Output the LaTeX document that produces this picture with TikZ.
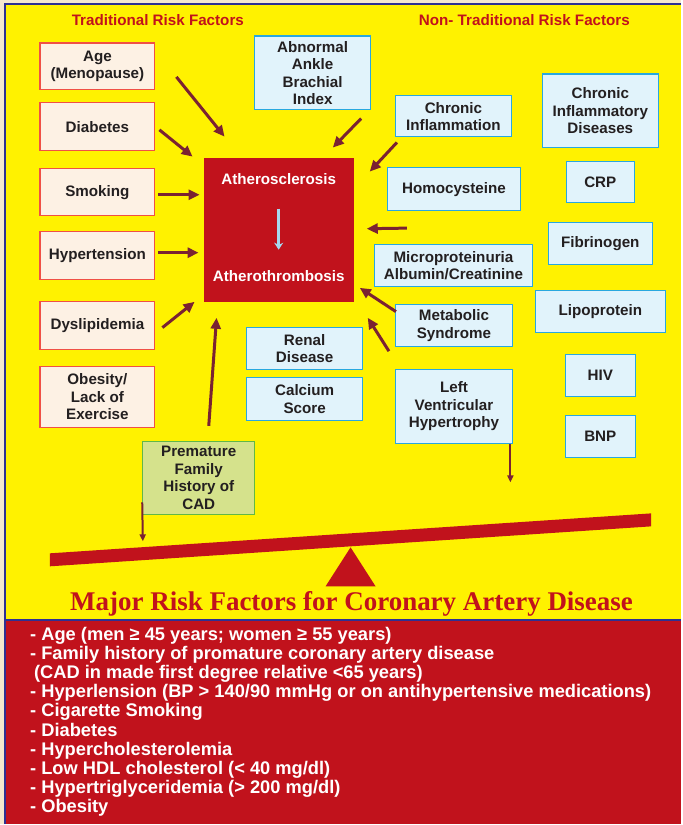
\documentclass[tikz,border=0pt]{standalone}
\usepackage{fontspec}
\setmainfont{Liberation Sans}
\newfontfamily\titlefont{Liberation Serif}
\usetikzlibrary{arrows.meta}
\definecolor{bgyellow}{RGB}{255,242,0}
\definecolor{cadred}{RGB}{193,18,28}
\definecolor{arrowred}{RGB}{122,34,50}
\definecolor{frameblue}{RGB}{46,49,146}
\definecolor{peach}{RGB}{253,241,228}
\definecolor{peachline}{RGB}{240,80,70}
\definecolor{paleblue}{RGB}{225,243,251}
\definecolor{paleline}{RGB}{41,168,223}
\definecolor{palegreen}{RGB}{213,226,140}
\definecolor{greenline}{RGB}{97,184,70}
\definecolor{boxtext}{RGB}{35,31,32}
\definecolor{beige}{RGB}{245,232,205}
\definecolor{skyarrow}{RGB}{166,216,240}

\begin{document}
\begin{tikzpicture}[x=1pt, y=-1pt,
    boxfont/.style={font=\fontsize{15.2}{17.5}\selectfont\bfseries},
    tradbox/.style={boxfont, draw=peachline, fill=peach, line width=1.2pt, inner sep=0pt, align=center, text=boxtext},
    nontradbox/.style={boxfont, draw=paleline, fill=paleblue, line width=1.2pt, inner sep=0pt, align=center, text=boxtext},
    familybox/.style={boxfont, draw=greenline, fill=palegreen, line width=1.2pt, inner sep=0pt, align=center, text=boxtext},
    heading/.style={boxfont, text=cadred},
    riskarrow/.style={arrowred, line width=3pt, -{Triangle[length=11pt,width=10pt]}},
    droparrow/.style={arrowred, line width=2pt, -{Triangle[length=7pt,width=6pt]}},
    listtext/.style={font=\fontsize{18.3}{19.2}\selectfont\bfseries, text=white, inner sep=0pt}]
    % background and frame
    \fill[beige] (0,0) rectangle (682,825);
    \fill[bgyellow] (5,4) rectangle (682,620);
    \fill[cadred] (5,621) rectangle (682,825);
    \draw[frameblue, line width=2pt] (5,825) -- (5,4) -- (682,4);
    \draw[frameblue, line width=1.5pt] (5,620.5) -- (682,620.5);

    \node[heading] (tradHead) at (158,20) {Traditional Risk Factors};
    \node[heading] (nontradHead) at (525,20) {Non- Traditional Risk Factors};

    % traditional risk factors
    \node[tradbox, minimum width=115, minimum height=47] (age) at (97.5,66.5) {Age\\(Menopause)};
    \node[tradbox, minimum width=115, minimum height=48] (diabetes) at (97.5,127) {Diabetes};
    \node[tradbox, minimum width=115, minimum height=47] (smoking) at (97.5,192.5) {Smoking};
    \node[tradbox, minimum width=115, minimum height=48] (hypertension) at (97.5,256) {Hypertension};
    \node[tradbox, minimum width=115, minimum height=48] (dyslipidemia) at (97.5,326) {Dyslipidemia};
    \node[tradbox, minimum width=115, minimum height=61] (obesity) at (97.5,397.5) {Obesity/\\Lack of\\Exercise};
    \node[familybox, minimum width=112, minimum height=73] (family) at (199,478.5) {Premature\\Family\\History of\\CAD};

    % central box
    \node[fill=cadred, minimum width=150, minimum height=144, inner sep=0pt] (athero) at (279,230) {};
    \node[boxfont, text=white] (sclerosis) at (279,179) {Atherosclerosis};
    \node[boxfont, text=white] (thrombosis) at (279,276) {Atherothrombosis};
    \draw[skyarrow, line width=2.5pt, -{Stealth[length=7pt,width=9pt]}] ([yshift=-30pt]sclerosis.center) -- ([yshift=26pt]thrombosis.center);

    % non-traditional risk factors
    \node[nontradbox, minimum width=116, minimum height=74] (abi) at (313,73) {Abnormal\\Ankle\\Brachial\\Index};
    \node[nontradbox, minimum width=116, minimum height=41] (inflam) at (454,116.5) {Chronic\\Inflammation};
    \node[nontradbox, minimum width=133, minimum height=43] (homocys) at (454.5,189.5) {Homocysteine};
    \node[nontradbox, minimum width=158, minimum height=42] (micro) at (454,266) {Microproteinuria\\Albumin/Creatinine};
    \node[nontradbox, minimum width=117, minimum height=42] (metabolic) at (454.5,326) {Metabolic\\Syndrome};
    \node[nontradbox, minimum width=117, minimum height=74] (lvh) at (454.5,407) {Left\\Ventricular\\Hypertrophy};
    \node[nontradbox, minimum width=116, minimum height=42] (renal) at (305,349) {Renal\\Disease};
    \node[nontradbox, minimum width=116, minimum height=43] (calcium) at (305,399.5) {Calcium\\Score};
    \node[nontradbox, minimum width=116, minimum height=74] (inflamDis) at (601,111) {Chronic\\Inflammatory\\Diseases};
    \node[nontradbox, minimum width=68, minimum height=41] (crp) at (601,182.5) {CRP};
    \node[nontradbox, minimum width=104, minimum height=42] (fibrinogen) at (601,244) {Fibrinogen};
    \node[nontradbox, minimum width=130, minimum height=42] (lipoprotein) at (601,312) {Lipoprotein};
    \node[nontradbox, minimum width=70, minimum height=42] (hiv) at (601,376) {HIV};
    \node[nontradbox, minimum width=70, minimum height=42] (bnp) at (601,437) {BNP};

    % arrows into the central box
    \draw[riskarrow] ([shift={(21,10.5)}]age.east) -- ([shift={(21,-21)}]athero.north west);
    \draw[riskarrow] ([shift={(4,3)}]diabetes.east) -- ([shift={(-11,-1)}]athero.north west);
    \draw[riskarrow] ([shift={(3,2.5)}]smoking.east) -- ([shift={(-4,-35)}]athero.west);
    \draw[riskarrow] ([shift={(3,-3)}]hypertension.east) -- ([shift={(-5,23)}]athero.west);
    \draw[riskarrow] ([shift={(7,2)}]dyslipidemia.east) -- ([shift={(-9,0)}]athero.south west);
    \draw[riskarrow] ([shift={(10,-15)}]family.north) -- ([shift={(13,16)}]athero.south west);
    \draw[riskarrow] ([shift={(-10,8)}]abi.south east) -- ([shift={(-21,-10)}]athero.north east);
    \draw[riskarrow] ([shift={(2,5)}]inflam.south west) -- ([shift={(16,14)}]athero.north east);
    \draw[riskarrow] ([shift={(33,-16)}]micro.north west) -- ([shift={(13,-1)}]athero.east);
    \draw[riskarrow] ([shift={(1,-14)}]metabolic.west) -- ([shift={(6,-14)}]athero.south east);
    \draw[riskarrow] ([shift={(-6,4)}]metabolic.south west) -- ([shift={(14,16)}]athero.south east);

    % seesaw
    \coordinate (lvhDrop) at (511,483);
    \coordinate (familyDrop) at (143,542);
    \draw[droparrow] ([xshift=56.5pt]lvh.south) -- (lvhDrop);
    \draw[droparrow] ([yshift=-24.5pt]family.west) -- (familyDrop);
    \fill[cadred] (50,554) -- (652,514) -- (652,527) -- (50,567) -- cycle;
    \fill[cadred] (351,548) -- (376,587) -- (326,587) -- cycle;

    \node[font=\titlefont\fontsize{27}{30}\selectfont\bfseries, text=cadred, anchor=base] (title) at (352,611) {Major Risk Factors for Coronary Artery Disease};

    % major risk factors list
    \foreach \itm [count=\i from 0] in {{- Age (men ≥ 45 years; women ≥ 55 years)},
        {- Family history of promature coronary artery disease},
        {\hspace*{4pt}(CAD in made first degree relative <65 years)},
        {- Hyperlension (BP > 140/90 mmHg or on antihypertensive medications)},
        {- Cigarette Smoking}, {- Diabetes}, {- Hypercholesterolemia},
        {- Low HDL cholesterol (< 40 mg/dl)},
        {- Hypertriglyceridemia (> 200 mg/dl)}, {- Obesity}}{
      \node[listtext, anchor=base west] (item\i) at (30,641+19.2*\i) {\itm};
    }
\end{tikzpicture}
\end{document}
